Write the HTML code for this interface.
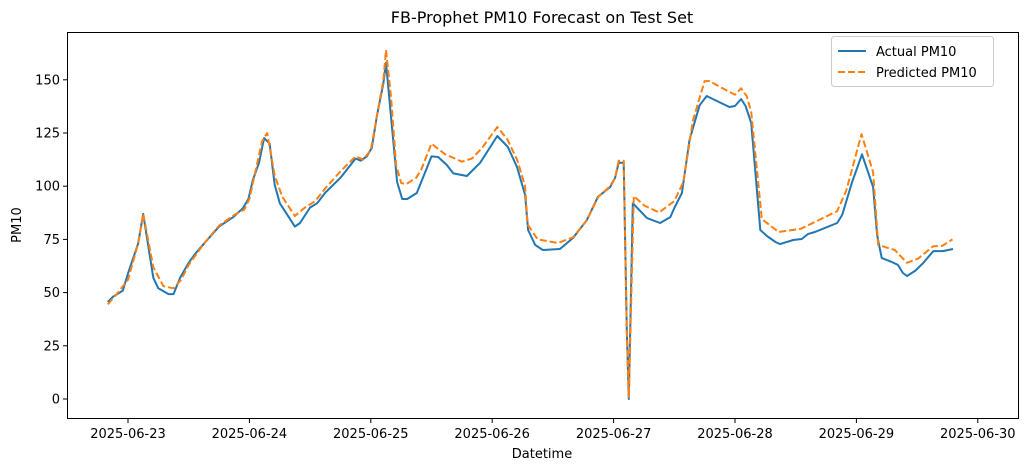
<!DOCTYPE html>
<html><head><meta charset="utf-8"><style>
body{margin:0;background:#fff;}
svg text{font-family:"DejaVu Sans","Liberation Sans",sans-serif;fill:#000;}
</style></head><body>
<svg id="chart" width="1028" height="470" xmlns="http://www.w3.org/2000/svg">
<rect width="1028" height="470" fill="#fff"/>
<text x="542" y="23" font-size="16" text-anchor="middle">FB-Prophet PM10 Forecast on Test Set</text>
<g id="grid"></g>
<g id="series"></g>
<rect x="67.5" y="32.5" width="951" height="386" fill="none" stroke="#000" stroke-width="1"/>
<text x="542" y="458" font-size="13" text-anchor="middle">Datetime</text>
<text x="21" y="225" font-size="13" text-anchor="middle" transform="rotate(-90 21 225)">PM10</text>
<g>
<rect x="831.5" y="36.5" width="162" height="50" rx="3" fill="#fff" stroke="#ccc"/>
<line x1="838" y1="51" x2="866" y2="51" stroke="#1f77b4" stroke-width="2"/>
<text x="876" y="56" font-size="13">Actual PM10</text>
<line x1="838" y1="72" x2="866" y2="72" stroke="#ff7f0e" stroke-width="2" stroke-dasharray="7,3"/>
<text x="876" y="77" font-size="13">Predicted PM10</text>
</g>
</svg>
<script>
// hours offset from 2025-06-23 00:00
const actualHours=[-4,-3,-1,0,2,3,5,6,8,9,10.3,12,13.2,15,18,20.8,22.7,23.8,24.7,25.9,26.9,28,29,30,33,34,36,37.4,39,42,45,46,47.2,48.2,49.2,50.5,51,53.2,54.2,55.2,57.1,60,61.3,63,64.3,67,69.6,73,75.1,76.9,78.5,79.1,80.5,82,85.4,88,90.7,92.9,95.3,96.3,97,98,98.6,99,99.8,102.6,105.2,107.2,108,109.5,111,113,114.4,115.6,118.9,120,121.2,122.1,123.2,125,126.3,128,128.9,131.5,133.2,134.4,135.8,137.8,140.2,141.2,143.1,145.1,147.3,148.1,149,151,152.2,153.2,154,155.6,157.2,159.2,161.1,163.1];
const actualValues=[45.6,48,51,59,73,87,57,52,49.3,49.3,57,64,68,73,81,85.5,89.6,94,103,111,122.6,120,100.6,92,81,82.7,90,92,97,104,113,112,114,118,133,148.5,158,102,94,94,96.8,114,113.7,110,106,104.8,111,123.6,118.4,109,95.9,79.4,72.4,70,70.5,75.7,84,95,99.6,104,111,111,32,0,92,85,82.7,85.5,89.7,96.8,121.7,138,142.4,141,137.2,137.7,141,137.7,129.7,79.4,76.6,73.8,72.8,74.7,75.2,77.5,78.5,80.4,82.7,86.5,101.5,115,99.6,77,66.3,64.4,63,59.2,57.8,60.2,63.9,69.5,69.5,70.5];
const predHours=[-4,-2,0,2,3,5,7,9,10.5,12,15,18,21,23,24,25,26.5,27.5,29,30.5,33,35,37,39,42,45,46.5,48,49.2,50.5,51,52,53,54,55,57,58,60,62.7,66,68,70,73,75,77,78.5,79,81,85,88,90.7,93,95.3,96.3,97,98,98.6,99,100,102,105,108,109.8,111.7,114,115,117,120,121.2,122.3,123.2,125.3,128.6,133,137,140.2,142,145,147.3,148.3,151.6,154,156.2,159.2,161,163];
const predValues=[44.5,50,56,73,87,62,53,52,56,63,73,81.5,86.5,89,94,105,121,125,105,95,86,90,93,99,107,114,112.5,117,133,150,164,142,110,101.5,101,104,108,120,115,111.5,113,118,127.8,122,112,100,82,75,73.3,76,84,95,100,104,112,112,32,1,95.4,91,87.7,93,102,131,149.4,149.4,146.7,143,146,142.4,135,84.6,78.5,80,84.6,88.3,98,124.5,106.6,72.4,70,64,66,71.8,72,75];
const yTicks=[0,25,50,75,100,125,150];
const xTickLabels=["2025-06-23","2025-06-24","2025-06-25","2025-06-26","2025-06-27","2025-06-28","2025-06-29","2025-06-30"];

const NS="http://www.w3.org/2000/svg";
const xs=h=>128+h*121.4/24;
const ys=v=>399-v*2.128;
const grid=document.getElementById('grid'),ser=document.getElementById('series');
function mk(tag,attrs,parent){const e=document.createElementNS(NS,tag);for(const k in attrs)e.setAttribute(k,attrs[k]);parent.appendChild(e);return e;}
yTicks.forEach(v=>{
  const y=ys(v);
  const l=mk('line',{x1:63,x2:67,y1:y,y2:y,stroke:'#000'},grid);
  
  
  const t=mk('text',{x:60,y:y+4.5,'font-size':13,'text-anchor':'end'},grid);
  t.textContent=v;
  
  
});
xTickLabels.forEach((s,i)=>{
  const x=xs(i*24);
  const l=mk('line',{x1:x,x2:x,y1:419,y2:423,stroke:'#000'},grid);
  
  
  const t=mk('text',{x:x,y:438,'font-size':13,'text-anchor':'middle'},grid);
  t.textContent=s;
  
  
});
function pts(hs,vs){return hs.map((h,i)=>xs(h).toFixed(1)+','+ys(vs[i]).toFixed(1)).join(' ');}
const a=mk('polyline',{points:pts(actualHours,actualValues),fill:'none',stroke:'#1f77b4','stroke-width':2,'stroke-linejoin':'round'},ser);


const p=mk('polyline',{points:pts(predHours,predValues),fill:'none',stroke:'#ff7f0e','stroke-width':2,'stroke-dasharray':'7,3','stroke-linejoin':'round'},ser);


</script>
</body></html>
